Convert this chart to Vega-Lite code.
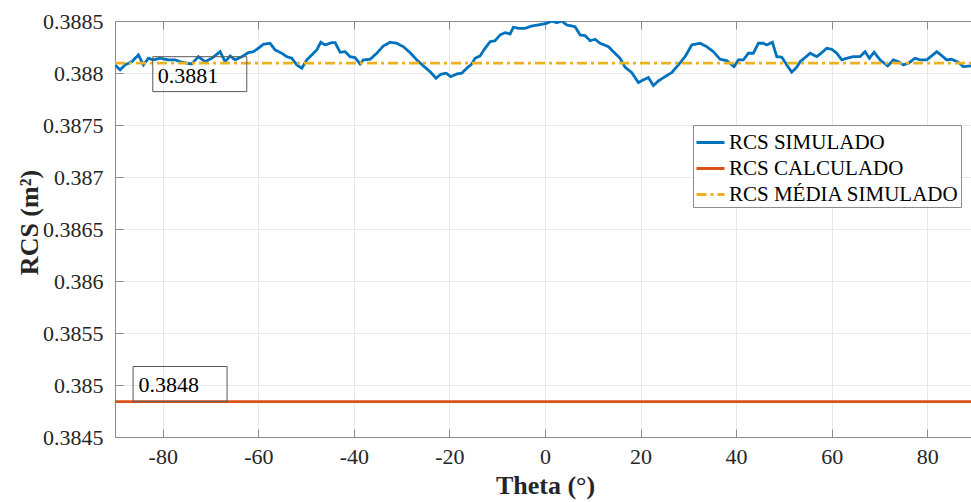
{
  "$schema": "https://vega.github.io/schema/vega-lite/v6.json",
  "autosize": {"type": "none"},
  "width": 856,
  "height": 416,
  "padding": {"left": 115, "top": 21, "right": 0, "bottom": 65},
  "background": "white",
  "config": {
    "font": "'Liberation Serif', 'Times New Roman', serif",
    "view": {"stroke": null},
    "text": {"font": "'Liberation Serif', 'Times New Roman', serif"},
    "axis": {
      "labelFont": "'Liberation Serif', 'Times New Roman', serif",
      "labelFontSize": 22,
      "labelColor": "#262626",
      "titleFont": "'Liberation Serif', 'Times New Roman', serif",
      "titleFontSize": 26,
      "titleFontWeight": "bold",
      "titleColor": "#262626",
      "domainColor": "#8c8c8c",
      "tickColor": "#8c8c8c",
      "gridColor": "#e8e8e8",
      "tickSize": -8,
      "domainWidth": 1,
      "tickWidth": 1
    },
    "legend": {
      "labelFont": "'Liberation Serif', 'Times New Roman', serif"
    }
  },
  "datasets": {
    "curves": [
      {"theta": -90, "rcs": 0.388078, "series": "RCS SIMULADO"},
      {"theta": -88.93, "rcs": 0.38803, "series": "RCS SIMULADO"},
      {"theta": -87.89, "rcs": 0.388078, "series": "RCS SIMULADO"},
      {"theta": -86.48, "rcs": 0.388109, "series": "RCS SIMULADO"},
      {"theta": -85.1, "rcs": 0.388174, "series": "RCS SIMULADO"},
      {"theta": -84.06, "rcs": 0.388078, "series": "RCS SIMULADO"},
      {"theta": -83.01, "rcs": 0.388142, "series": "RCS SIMULADO"},
      {"theta": -81.96, "rcs": 0.388126, "series": "RCS SIMULADO"},
      {"theta": -80.56, "rcs": 0.388142, "series": "RCS SIMULADO"},
      {"theta": -78.82, "rcs": 0.388126, "series": "RCS SIMULADO"},
      {"theta": -77.42, "rcs": 0.388126, "series": "RCS SIMULADO"},
      {"theta": -76.38, "rcs": 0.388109, "series": "RCS SIMULADO"},
      {"theta": -74.97, "rcs": 0.388094, "series": "RCS SIMULADO"},
      {"theta": -73.93, "rcs": 0.388087, "series": "RCS SIMULADO"},
      {"theta": -72.55, "rcs": 0.388157, "series": "RCS SIMULADO"},
      {"theta": -71.14, "rcs": 0.388109, "series": "RCS SIMULADO"},
      {"theta": -69.74, "rcs": 0.388142, "series": "RCS SIMULADO"},
      {"theta": -68.0, "rcs": 0.388205, "series": "RCS SIMULADO"},
      {"theta": -66.96, "rcs": 0.388109, "series": "RCS SIMULADO"},
      {"theta": -65.91, "rcs": 0.388164, "series": "RCS SIMULADO"},
      {"theta": -64.86, "rcs": 0.388126, "series": "RCS SIMULADO"},
      {"theta": -63.46, "rcs": 0.388157, "series": "RCS SIMULADO"},
      {"theta": -62.08, "rcs": 0.388196, "series": "RCS SIMULADO"},
      {"theta": -61.03, "rcs": 0.388205, "series": "RCS SIMULADO"},
      {"theta": -59.99, "rcs": 0.388238, "series": "RCS SIMULADO"},
      {"theta": -58.94, "rcs": 0.388276, "series": "RCS SIMULADO"},
      {"theta": -57.54, "rcs": 0.388286, "series": "RCS SIMULADO"},
      {"theta": -56.49, "rcs": 0.388222, "series": "RCS SIMULADO"},
      {"theta": -55.09, "rcs": 0.38819, "series": "RCS SIMULADO"},
      {"theta": -54.04, "rcs": 0.388157, "series": "RCS SIMULADO"},
      {"theta": -53.0, "rcs": 0.388142, "series": "RCS SIMULADO"},
      {"theta": -51.95, "rcs": 0.388078, "series": "RCS SIMULADO"},
      {"theta": -50.9, "rcs": 0.388046, "series": "RCS SIMULADO"},
      {"theta": -49.86, "rcs": 0.388126, "series": "RCS SIMULADO"},
      {"theta": -48.81, "rcs": 0.388174, "series": "RCS SIMULADO"},
      {"theta": -47.77, "rcs": 0.388222, "series": "RCS SIMULADO"},
      {"theta": -46.93, "rcs": 0.388296, "series": "RCS SIMULADO"},
      {"theta": -46.03, "rcs": 0.38827, "series": "RCS SIMULADO"},
      {"theta": -44.62, "rcs": 0.388292, "series": "RCS SIMULADO"},
      {"theta": -43.93, "rcs": 0.388292, "series": "RCS SIMULADO"},
      {"theta": -42.89, "rcs": 0.3882, "series": "RCS SIMULADO"},
      {"theta": -41.84, "rcs": 0.388205, "series": "RCS SIMULADO"},
      {"theta": -40.79, "rcs": 0.388157, "series": "RCS SIMULADO"},
      {"theta": -39.75, "rcs": 0.388148, "series": "RCS SIMULADO"},
      {"theta": -38.7, "rcs": 0.388087, "series": "RCS SIMULADO"},
      {"theta": -38.01, "rcs": 0.388126, "series": "RCS SIMULADO"},
      {"theta": -36.61, "rcs": 0.388132, "series": "RCS SIMULADO"},
      {"theta": -35.21, "rcs": 0.38819, "series": "RCS SIMULADO"},
      {"theta": -33.83, "rcs": 0.38826, "series": "RCS SIMULADO"},
      {"theta": -32.42, "rcs": 0.388296, "series": "RCS SIMULADO"},
      {"theta": -31.02, "rcs": 0.388286, "series": "RCS SIMULADO"},
      {"theta": -29.64, "rcs": 0.388253, "series": "RCS SIMULADO"},
      {"theta": -28.24, "rcs": 0.388196, "series": "RCS SIMULADO"},
      {"theta": -26.84, "rcs": 0.388126, "series": "RCS SIMULADO"},
      {"theta": -25.45, "rcs": 0.388068, "series": "RCS SIMULADO"},
      {"theta": -24.05, "rcs": 0.388013, "series": "RCS SIMULADO"},
      {"theta": -22.8, "rcs": 0.38795, "series": "RCS SIMULADO"},
      {"theta": -21.81, "rcs": 0.387988, "series": "RCS SIMULADO"},
      {"theta": -20.7, "rcs": 0.387998, "series": "RCS SIMULADO"},
      {"theta": -19.72, "rcs": 0.387965, "series": "RCS SIMULADO"},
      {"theta": -18.46, "rcs": 0.387991, "series": "RCS SIMULADO"},
      {"theta": -17.42, "rcs": 0.387998, "series": "RCS SIMULADO"},
      {"theta": -16.37, "rcs": 0.388046, "series": "RCS SIMULADO"},
      {"theta": -15.32, "rcs": 0.388087, "series": "RCS SIMULADO"},
      {"theta": -14.63, "rcs": 0.388142, "series": "RCS SIMULADO"},
      {"theta": -13.59, "rcs": 0.388164, "series": "RCS SIMULADO"},
      {"theta": -12.54, "rcs": 0.388238, "series": "RCS SIMULADO"},
      {"theta": -11.49, "rcs": 0.388301, "series": "RCS SIMULADO"},
      {"theta": -10.45, "rcs": 0.388311, "series": "RCS SIMULADO"},
      {"theta": -9.4, "rcs": 0.388366, "series": "RCS SIMULADO"},
      {"theta": -8.35, "rcs": 0.388388, "series": "RCS SIMULADO"},
      {"theta": -7.31, "rcs": 0.388375, "series": "RCS SIMULADO"},
      {"theta": -6.62, "rcs": 0.38844, "series": "RCS SIMULADO"},
      {"theta": -5.57, "rcs": 0.38843, "series": "RCS SIMULADO"},
      {"theta": -4.17, "rcs": 0.38843, "series": "RCS SIMULADO"},
      {"theta": -2.77, "rcs": 0.388452, "series": "RCS SIMULADO"},
      {"theta": -1.39, "rcs": 0.388462, "series": "RCS SIMULADO"},
      {"theta": 0.37, "rcs": 0.388478, "series": "RCS SIMULADO"},
      {"theta": 1.42, "rcs": 0.3885, "series": "RCS SIMULADO"},
      {"theta": 2.47, "rcs": 0.388484, "series": "RCS SIMULADO"},
      {"theta": 3.51, "rcs": 0.3885, "series": "RCS SIMULADO"},
      {"theta": 4.56, "rcs": 0.388462, "series": "RCS SIMULADO"},
      {"theta": 6.3, "rcs": 0.388445, "series": "RCS SIMULADO"},
      {"theta": 7.34, "rcs": 0.388366, "series": "RCS SIMULADO"},
      {"theta": 8.39, "rcs": 0.388359, "series": "RCS SIMULADO"},
      {"theta": 9.44, "rcs": 0.388311, "series": "RCS SIMULADO"},
      {"theta": 10.48, "rcs": 0.388324, "series": "RCS SIMULADO"},
      {"theta": 11.53, "rcs": 0.388286, "series": "RCS SIMULADO"},
      {"theta": 13.27, "rcs": 0.388253, "series": "RCS SIMULADO"},
      {"theta": 14.31, "rcs": 0.388205, "series": "RCS SIMULADO"},
      {"theta": 15.71, "rcs": 0.388142, "series": "RCS SIMULADO"},
      {"theta": 16.76, "rcs": 0.388056, "series": "RCS SIMULADO"},
      {"theta": 18.16, "rcs": 0.388004, "series": "RCS SIMULADO"},
      {"theta": 19.54, "rcs": 0.387908, "series": "RCS SIMULADO"},
      {"theta": 20.59, "rcs": 0.387934, "series": "RCS SIMULADO"},
      {"theta": 21.64, "rcs": 0.387956, "series": "RCS SIMULADO"},
      {"theta": 22.68, "rcs": 0.387879, "series": "RCS SIMULADO"},
      {"theta": 23.73, "rcs": 0.387924, "series": "RCS SIMULADO"},
      {"theta": 25.13, "rcs": 0.387965, "series": "RCS SIMULADO"},
      {"theta": 26.53, "rcs": 0.388004, "series": "RCS SIMULADO"},
      {"theta": 27.92, "rcs": 0.388078, "series": "RCS SIMULADO"},
      {"theta": 29.32, "rcs": 0.388157, "series": "RCS SIMULADO"},
      {"theta": 30.72, "rcs": 0.38827, "series": "RCS SIMULADO"},
      {"theta": 32.46, "rcs": 0.388286, "series": "RCS SIMULADO"},
      {"theta": 33.86, "rcs": 0.388253, "series": "RCS SIMULADO"},
      {"theta": 35.24, "rcs": 0.388205, "series": "RCS SIMULADO"},
      {"theta": 36.64, "rcs": 0.388132, "series": "RCS SIMULADO"},
      {"theta": 38.04, "rcs": 0.388119, "series": "RCS SIMULADO"},
      {"theta": 39.57, "rcs": 0.388061, "series": "RCS SIMULADO"},
      {"theta": 40.47, "rcs": 0.388126, "series": "RCS SIMULADO"},
      {"theta": 41.52, "rcs": 0.388126, "series": "RCS SIMULADO"},
      {"theta": 42.57, "rcs": 0.38819, "series": "RCS SIMULADO"},
      {"theta": 43.61, "rcs": 0.38819, "series": "RCS SIMULADO"},
      {"theta": 44.66, "rcs": 0.388286, "series": "RCS SIMULADO"},
      {"theta": 45.7, "rcs": 0.388286, "series": "RCS SIMULADO"},
      {"theta": 46.42, "rcs": 0.38827, "series": "RCS SIMULADO"},
      {"theta": 47.59, "rcs": 0.388296, "series": "RCS SIMULADO"},
      {"theta": 48.51, "rcs": 0.388157, "series": "RCS SIMULADO"},
      {"theta": 49.56, "rcs": 0.388152, "series": "RCS SIMULADO"},
      {"theta": 50.6, "rcs": 0.388078, "series": "RCS SIMULADO"},
      {"theta": 51.65, "rcs": 0.388008, "series": "RCS SIMULADO"},
      {"theta": 52.7, "rcs": 0.388056, "series": "RCS SIMULADO"},
      {"theta": 53.39, "rcs": 0.388109, "series": "RCS SIMULADO"},
      {"theta": 54.43, "rcs": 0.388148, "series": "RCS SIMULADO"},
      {"theta": 55.48, "rcs": 0.38819, "series": "RCS SIMULADO"},
      {"theta": 56.88, "rcs": 0.388157, "series": "RCS SIMULADO"},
      {"theta": 57.93, "rcs": 0.388196, "series": "RCS SIMULADO"},
      {"theta": 58.97, "rcs": 0.388238, "series": "RCS SIMULADO"},
      {"theta": 60.02, "rcs": 0.388228, "series": "RCS SIMULADO"},
      {"theta": 61.07, "rcs": 0.38819, "series": "RCS SIMULADO"},
      {"theta": 62.12, "rcs": 0.388126, "series": "RCS SIMULADO"},
      {"theta": 63.16, "rcs": 0.388142, "series": "RCS SIMULADO"},
      {"theta": 64.54, "rcs": 0.388157, "series": "RCS SIMULADO"},
      {"theta": 65.94, "rcs": 0.388157, "series": "RCS SIMULADO"},
      {"theta": 66.99, "rcs": 0.388205, "series": "RCS SIMULADO"},
      {"theta": 67.89, "rcs": 0.388142, "series": "RCS SIMULADO"},
      {"theta": 68.88, "rcs": 0.3882, "series": "RCS SIMULADO"},
      {"theta": 70.13, "rcs": 0.388126, "series": "RCS SIMULADO"},
      {"theta": 71.74, "rcs": 0.388068, "series": "RCS SIMULADO"},
      {"theta": 72.91, "rcs": 0.388126, "series": "RCS SIMULADO"},
      {"theta": 73.96, "rcs": 0.388109, "series": "RCS SIMULADO"},
      {"theta": 75.0, "rcs": 0.388078, "series": "RCS SIMULADO"},
      {"theta": 76.05, "rcs": 0.388094, "series": "RCS SIMULADO"},
      {"theta": 77.45, "rcs": 0.388142, "series": "RCS SIMULADO"},
      {"theta": 78.5, "rcs": 0.388126, "series": "RCS SIMULADO"},
      {"theta": 79.9, "rcs": 0.388126, "series": "RCS SIMULADO"},
      {"theta": 81.99, "rcs": 0.388205, "series": "RCS SIMULADO"},
      {"theta": 83.04, "rcs": 0.388167, "series": "RCS SIMULADO"},
      {"theta": 84.08, "rcs": 0.388126, "series": "RCS SIMULADO"},
      {"theta": 85.13, "rcs": 0.388132, "series": "RCS SIMULADO"},
      {"theta": 86.51, "rcs": 0.388103, "series": "RCS SIMULADO"},
      {"theta": 87.56, "rcs": 0.388061, "series": "RCS SIMULADO"},
      {"theta": 88.97, "rcs": 0.388068, "series": "RCS SIMULADO"},
      {"theta": 90, "rcs": 0.388068, "series": "RCS SIMULADO"},
      {"theta": -90, "rcs": 0.38484, "series": "RCS CALCULADO"},
      {"theta": 90, "rcs": 0.38484, "series": "RCS CALCULADO"},
      {"theta": -90, "rcs": 0.388094, "series": "RCS MÉDIA SIMULADO"},
      {"theta": 90, "rcs": 0.388094, "series": "RCS MÉDIA SIMULADO"}
    ],
    "notes": [
      {"label": "0.3881", "theta": -81.04, "rcs": 0.387908, "theta_start": -82.09, "theta_end": -62.42, "rcs_top": 0.388157, "rcs_bottom": 0.387821},
      {"label": "0.3848", "theta": -85.1, "rcs": 0.384936, "theta_start": -86.21, "theta_end": -66.54, "rcs_top": 0.385178, "rcs_bottom": 0.384842}
    ]
  },
  "resolve": {"axis": {"x": "independent", "y": "independent"}},
  "layer": [
    {
      "data": {"name": "curves"},
      "mark": {"type": "line", "strokeWidth": 2.8, "clip": true},
      "encoding": {
        "x": {
          "field": "theta", "type": "quantitative",
          "scale": {"domain": [-90, 90], "range": [0, 860], "nice": false, "zero": false},
          "axis": {
            "orient": "bottom",
            "values": [-80, -60, -40, -20, 0, 20, 40, 60, 80],
            "labelExpr": "'' + datum.value",
            "labelPadding": 17,
            "title": "Theta (°)",
            "titleBaseline": "alphabetic",
            "titleY": 56,
            "grid": true
          }
        },
        "y": {
          "field": "rcs", "type": "quantitative",
          "scale": {"domain": [0.3845, 0.3885], "nice": false, "zero": false},
          "axis": {
            "orient": "left",
            "values": [0.3845, 0.385, 0.3855, 0.386, 0.3865, 0.387, 0.3875, 0.388, 0.3885],
            "format": ".4~f",
            "labelPadding": 20,
            "title": "RCS (m²)",
            "titleBaseline": "alphabetic",
            "titleX": -78,
            "titleY": 201,
            "titleAlign": "center",
            "titleAngle": -90,
            "grid": true
          }
        },
        "color": {
          "field": "series", "type": "nominal",
          "scale": {"domain": ["RCS SIMULADO", "RCS CALCULADO", "RCS MÉDIA SIMULADO"], "range": ["#0072BD", "#D95319", "#EDB120"]},
          "legend": {
            "orient": "none", "legendX": 578, "legendY": 104, "title": null,
            "fillColor": "white", "strokeColor": "#8c8c8c", "padding": 2,
            "labelFont": "'Liberation Serif', 'Times New Roman', serif", "labelFontSize": 21, "labelColor": "#000000",
            "symbolType": "stroke", "symbolSize": 784, "symbolStrokeWidth": 3,
            "labelOffset": 3, "rowPadding": -3.5, "labelLimit": 400
          }
        },
        "strokeDash": {
          "field": "series", "type": "nominal",
          "scale": {"domain": ["RCS SIMULADO", "RCS CALCULADO", "RCS MÉDIA SIMULADO"], "range": [[1, 0], [1, 0], [10, 4, 3, 4]]},
          "legend": {
            "orient": "none", "legendX": 578, "legendY": 104, "title": null,
            "fillColor": "white", "strokeColor": "#8c8c8c", "padding": 2,
            "labelFont": "'Liberation Serif', 'Times New Roman', serif", "labelFontSize": 21, "labelColor": "#000000",
            "symbolType": "stroke", "symbolSize": 784, "symbolStrokeWidth": 3,
            "labelOffset": 3, "rowPadding": -3.5, "labelLimit": 400
          }
        }
      }
    },
    {
      "data": {"name": "notes"},
      "mark": {"type": "rect", "fill": null, "stroke": "#595959", "strokeWidth": 1},
      "encoding": {
        "x": {
          "field": "theta_start", "type": "quantitative",
          "axis": {"orient": "top", "labels": false, "grid": false, "title": null, "values": [-80, -60, -40, -20, 0, 20, 40, 60, 80]}
        },
        "x2": {"field": "theta_end"},
        "y": {"field": "rcs_top", "type": "quantitative", "axis": null},
        "y2": {"field": "rcs_bottom"}
      }
    },
    {
      "data": {"name": "notes"},
      "mark": {"type": "text", "align": "left", "baseline": "alphabetic", "fontSize": 22, "font": "'Liberation Serif', 'Times New Roman', serif", "color": "#000000"},
      "encoding": {
        "x": {"field": "theta", "type": "quantitative", "axis": null},
        "y": {"field": "rcs", "type": "quantitative", "axis": null},
        "text": {"field": "label"}
      }
    }
  ]
}
